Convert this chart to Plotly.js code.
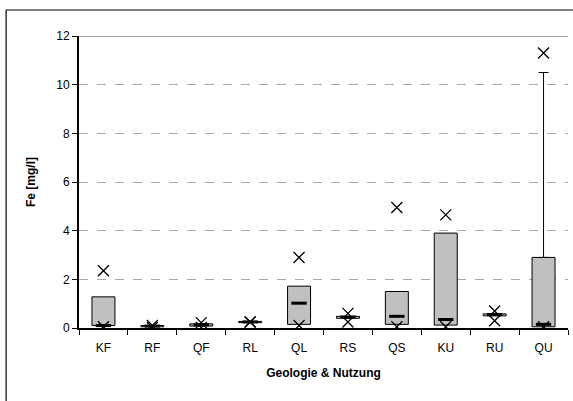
<!DOCTYPE html>
<html><head><meta charset="utf-8">
<script src="https://cdn.plot.ly/plotly-3.0.1.min.js"></script>
<style>html,body{margin:0;padding:0;background:#fff;overflow:hidden;width:573px;height:401px}#c{width:573px;height:401px;overflow:hidden}</style>
</head><body><div id="c"></div>
<script>
var categories = ["KF","RF","QF","RL","QL","RS","QS","KU","RU","QU"];
var q1 =     [0.10, 0.05, 0.08, 0.22, 0.15, 0.40, 0.15, 0.12, 0.50, 0.05];
var q3 =     [1.28, 0.10, 0.17, 0.27, 1.72, 0.48, 1.50, 3.90, 0.58, 2.90];
var median = [0.10, 0.08, 0.13, 0.25, 1.02, 0.45, 0.48, 0.35, 0.55, 0.15];
var minV =   [0.05, 0.02, 0.02, 0.25, 0.10, 0.25, 0.05, 0.05, 0.30, 0.05];
var maxV =   [2.35, 0.10, 0.22, 0.25, 2.90, 0.60, 4.95, 4.65, 0.70, 11.30];
var whiskerCat = ["QU"];
var whiskerLow = [2.90];
var whiskerHigh = [10.50];

var boxH = q3.map(function(v,i){return v-q1[i];});
var f = "Liberation Sans, Arial, sans-serif";
var traces = [
  {type:"bar", x:categories, y:boxH, base:q1, width:0.47,
   marker:{color:"#c0c0c0", line:{color:"#000", width:1}}, hoverinfo:"skip"},
  {type:"scatter", mode:"markers", x:whiskerCat, y:whiskerLow,
   marker:{size:1, color:"rgba(0,0,0,0)"},
   error_y:{type:"data", symmetric:false,
     array:whiskerHigh.map(function(v,i){return v-whiskerLow[i];}),
     arrayminus:[0], color:"#000", thickness:1, width:5}},
  {type:"scatter", mode:"markers", x:categories, y:median,
   marker:{symbol:"line-ew-open", size:11, color:"#000", line:{color:"#000", width:3}}},
  {type:"scatter", mode:"markers", x:categories, y:maxV,
   marker:{symbol:"x-thin-open", size:11, color:"#000", line:{color:"#000", width:1.3}}},
  {type:"scatter", mode:"markers", x:categories, y:minV,
   marker:{symbol:"x-thin-open", size:11, color:"#000", line:{color:"#000", width:1.3}}}
];
var layout = {
  width:573, height:401, showlegend:false,
  margin:{l:79, r:5, t:36, b:73},
  paper_bgcolor:"#fff", plot_bgcolor:"#fff",
  font:{family:f, size:12, color:"#000"},
  barmode:"overlay",
  xaxis:{type:"category", range:[-0.5, 9.5], tickson:"boundaries", ticks:"outside", ticklen:5,
    tickcolor:"#000", showline:true, linecolor:"#000", linewidth:2, automargin:false,
    ticklabelstandoff:8,
    showgrid:false, zeroline:false, tickfont:{family:f,size:12},
    title:{text:"<b>Geologie &amp; Nutzung</b>", font:{family:f,size:12}, standoff:14}},
  yaxis:{range:[0,12], dtick:2, ticks:"outside", ticklen:5, tickcolor:"#000",
    showline:true, linecolor:"#000", linewidth:2, zeroline:false, automargin:false,
    showgrid:true, gridcolor:"#aaaaaa", griddash:"dash", gridwidth:1,
    tickfont:{family:f,size:12},
    title:{text:"<b>Fe [mg/l]</b>", font:{family:f,size:12}, standoff:18}},
  shapes:[
    {type:"line", xref:"paper", yref:"y", x0:0, x1:1, y0:12, y1:12,
     line:{color:"#555", width:1.2}},
    {type:"line", xref:"paper", yref:"paper", x0:-0.149, x1:-0.149, y0:-0.25, y1:1.089,
     line:{color:"#000", width:1.2}, layer:"below"},
    {type:"line", xref:"paper", yref:"paper", x0:-0.149, x1:1.0102, y0:1.089, y1:1.089,
     line:{color:"#000", width:1.2}, layer:"below"}
  ]
};
Plotly.newPlot("c", traces, layout, {displayModeBar:false, staticPlot:true});
</script></body></html>
